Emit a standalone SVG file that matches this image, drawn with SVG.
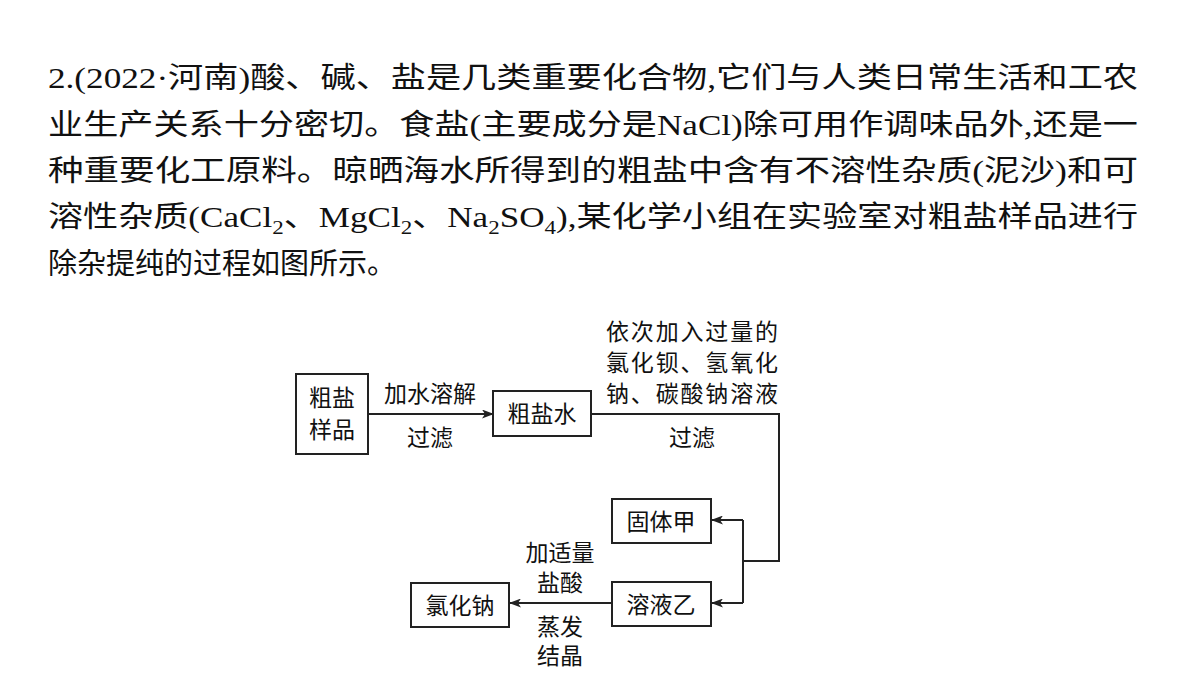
<svg xmlns="http://www.w3.org/2000/svg" width="1200" height="675" viewBox="0 0 1200 675">
<style>
.p{font-family:"Liberation Serif","Noto Sans CJK SC",serif;font-size:29px;fill:#111}
.l{font-family:"Noto Sans CJK SC",sans-serif;font-size:23px;fill:#111;text-anchor:middle}
.b{fill:#fff;stroke:#222;stroke-width:2}
.c{fill:none;stroke:#222;stroke-width:2}
</style>
<defs><marker id="a" markerWidth="12" markerHeight="9" refX="11" refY="4.5" orient="auto" markerUnits="userSpaceOnUse"><path d="M0,0L12,4.5L0,9L3,4.5z" fill="#222"/></marker></defs>
<rect width="1200" height="675" fill="#fff"/>
<g id="question">
<text class="p" x="48" y="88" textLength="1090" lengthAdjust="spacingAndGlyphs">2.(2022·河南)酸、碱、盐是几类重要化合物,它们与人类日常生活和工农</text>
<text class="p" x="48" y="135" textLength="1090" lengthAdjust="spacingAndGlyphs">业生产关系十分密切。食盐(主要成分是NaCl)除可用作调味品外,还是一</text>
<text class="p" x="48" y="181" textLength="1090" lengthAdjust="spacingAndGlyphs">种重要化工原料。晾晒海水所得到的粗盐中含有不溶性杂质(泥沙)和可</text>
<text class="p" x="48" y="227" textLength="1090" lengthAdjust="spacingAndGlyphs">溶性杂质(CaCl<tspan font-size="19" dy="7">2</tspan><tspan dy="-7">、MgCl</tspan><tspan font-size="19" dy="7">2</tspan><tspan dy="-7">、Na</tspan><tspan font-size="19" dy="7">2</tspan><tspan dy="-7">SO</tspan><tspan font-size="19" dy="7">4</tspan><tspan dy="-7">),某化学小组在实验室对粗盐样品进行</tspan></text>
<text class="p" x="48" y="274">除杂提纯的过程如图所示。</text>
</g>
<g id="connectors">
<line class="c" x1="368" y1="414" x2="493" y2="414" marker-end="url(#a)"/>
<polyline class="c" points="591,414 779,414 779,561 743,561"/>
<polyline class="c" points="743,520 743,603"/>
<line class="c" x1="743" y1="520" x2="712" y2="520" marker-end="url(#a)"/>
<line class="c" x1="743" y1="603" x2="712" y2="603" marker-end="url(#a)"/>
<line class="c" x1="612" y1="603" x2="510" y2="603" marker-end="url(#a)"/>
</g>
<g id="n1"><rect class="b" x="296" y="374" width="72" height="80"/><text class="l" x="332" y="406" font-size="25">粗盐</text><text class="l" x="332" y="438" font-size="25">样品</text></g>
<g id="n2"><rect class="b" x="493" y="391" width="98" height="45"/><text class="l" x="542" y="422" font-size="25">粗盐水</text></g>
<g id="n3"><rect class="b" x="612" y="499" width="99" height="44"/><text class="l" x="661" y="530" font-size="25">固体甲</text></g>
<g id="n4"><rect class="b" x="612" y="582" width="99" height="44"/><text class="l" x="661" y="613" font-size="25">溶液乙</text></g>
<g id="n5"><rect class="b" x="411" y="583" width="98" height="44"/><text class="l" x="460" y="614" font-size="25">氯化钠</text></g>
<g id="labels">
<text class="l" x="430" y="402" font-size="25">加水溶解</text>
<text class="l" x="430" y="446" font-size="25">过滤</text>
<text class="l" x="692" y="340" textLength="172">依次加入过量的</text>
<text class="l" x="692" y="371" textLength="172">氯化钡、氢氧化</text>
<text class="l" x="692" y="402" textLength="172">钠、碳酸钠溶液</text>
<text class="l" x="692" y="446" font-size="25">过滤</text>
<text class="l" x="560" y="561">加适量</text>
<text class="l" x="560" y="591">盐酸</text>
<text class="l" x="560" y="635">蒸发</text>
<text class="l" x="560" y="664">结晶</text>
</g>
</svg>
